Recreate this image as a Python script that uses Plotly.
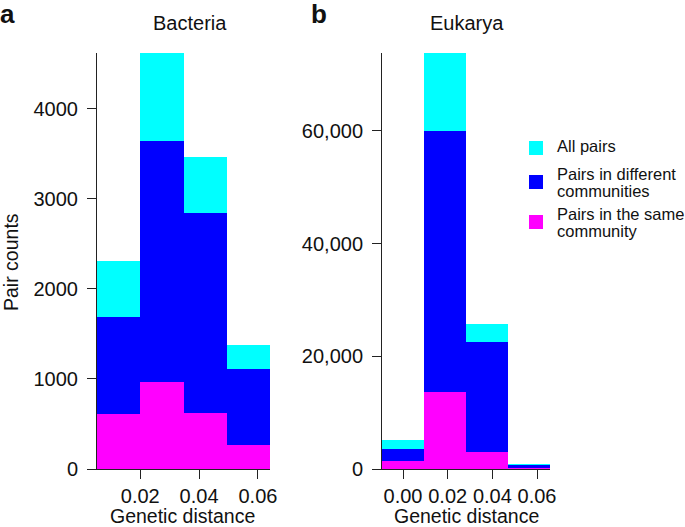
import plotly.graph_objects as go

# ---- data ----
bact_edges = [0.0053, 0.0200, 0.0347, 0.0494, 0.0641]
bact_all = [2310, 4620, 3465, 1380]
bact_diff = [1690, 3645, 2845, 1110]
bact_same = [615, 970, 620, 268]

euk_edges = [-0.0094, 0.0094, 0.0282, 0.0470, 0.0658]
euk_all = [5200, 73800, 25700, 900]
euk_diff = [3600, 60000, 22500, 750]
euk_same = [1450, 13700, 3050, 120]

series_names = ["All pairs", "Pairs in different communities", "Pairs in the same community"]
legend_lines = [["All pairs"], ["Pairs in different", "communities"], ["Pairs in the same", "community"]]
series_colors = ["#00FFFF", "#0000FF", "#FF00FF"]

FONT = "Liberation Sans, Arial, sans-serif"
W, H = 685, 527


def px(x):
    return x / W


def py(y):
    return 1 - y / H


def centers(e):
    return [(e[i] + e[i + 1]) / 2 for i in range(len(e) - 1)]


def widths(e):
    return [e[i + 1] - e[i] for i in range(len(e) - 1)]


fig = go.Figure()

for k, (name, col) in enumerate(zip(series_names, series_colors)):
    vals_b = [bact_all, bact_diff, bact_same][k]
    vals_e = [euk_all, euk_diff, euk_same][k]
    fig.add_trace(go.Bar(x=centers(bact_edges), y=vals_b, width=widths(bact_edges),
                         marker=dict(color=col, line=dict(width=0)), name=name,
                         xaxis="x", yaxis="y"))
    fig.add_trace(go.Bar(x=centers(euk_edges), y=vals_e, width=widths(euk_edges),
                         marker=dict(color=col, line=dict(width=0)), name=name,
                         xaxis="x2", yaxis="y2"))

ydom = [py(469), py(53)]
axis_common = dict(showline=True, linecolor="#222", linewidth=1, ticks="outside",
                   ticklen=9, tickcolor="#222", showgrid=False, zeroline=False,
                   automargin=False,
                   tickfont=dict(family=FONT, size=20, color="#111"))

fig.update_layout(
    width=W, height=H, barmode="overlay", bargap=0,
    plot_bgcolor="white", paper_bgcolor="white",
    margin=dict(l=0, r=0, t=0, b=0),
    font=dict(family=FONT, color="#111"),
    showlegend=False,
    xaxis=dict(domain=[px(97), px(270)], range=[bact_edges[0], bact_edges[-1]],
               tickvals=[0.02, 0.04, 0.06], tickformat=".2f", anchor="y", **axis_common),
    yaxis=dict(domain=ydom, range=[0, max(bact_all)], tickvals=[0, 1000, 2000, 3000, 4000],
               tickformat="d", anchor="x", ticklabelstandoff=5, **axis_common),
    xaxis2=dict(domain=[px(382), px(550)], range=[euk_edges[0], euk_edges[-1]],
                tickvals=[0.0, 0.02, 0.04, 0.06], tickformat=".2f", anchor="y2", **axis_common),
    yaxis2=dict(domain=ydom, range=[0, max(euk_all)], tickvals=[0, 20000, 40000, 60000],
                tickformat=",", anchor="x2", ticklabelstandoff=5, **axis_common),
)

ann = [
    dict(text="<b>a</b>", x=px(7), y=py(14), font=dict(size=26)),
    dict(text="<b>b</b>", x=px(319), y=py(14), font=dict(size=26)),
    dict(text="Bacteria", x=px(190), y=py(23), font=dict(size=20)),
    dict(text="Eukarya", x=px(467), y=py(23), font=dict(size=20)),
    dict(text="Genetic distance", x=px(183), y=py(516), font=dict(size=19.5)),
    dict(text="Genetic distance", x=px(466), y=py(516), font=dict(size=19.5)),
    dict(text="Pair counts", x=px(11), y=py(262), font=dict(size=19.5), textangle=-90),
]
for a in ann:
    a.update(xanchor="center")

# manual legend (squares + text lines)
sq_centers = [148, 182, 222]
line_ys = [[146], [174, 191], [214, 231]]
shapes = []
for col, cy, lines, ys in zip(series_colors, sq_centers, legend_lines, line_ys):
    shapes.append(dict(type="rect", xref="paper", yref="paper",
                       x0=px(529), x1=px(543), y0=py(cy + 7), y1=py(cy - 7),
                       fillcolor=col, line=dict(width=0)))
    for t, yy in zip(lines, ys):
        ann.append(dict(text=t, x=px(555), y=py(yy), xanchor="left", font=dict(size=16.5)))

for a in ann:
    a.update(xref="paper", yref="paper", showarrow=False, yanchor="middle")
    a["font"].update(family=FONT, color="#111")
fig.update_layout(annotations=ann, shapes=shapes)

fig.write_html("out.html", config={"displayModeBar": False},
               post_script="document.body.style.margin='0px';")
